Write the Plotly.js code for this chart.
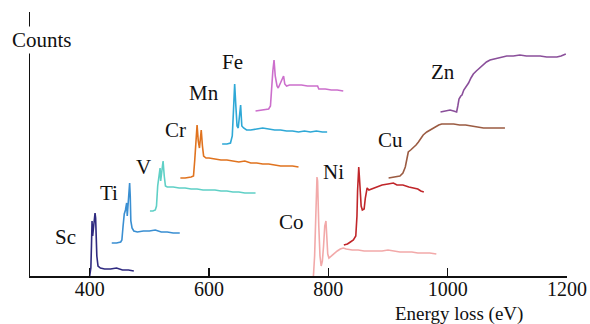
<!DOCTYPE html>
<html>
<head>
<meta charset="utf-8">
<script src="https://cdn.plot.ly/plotly-3.0.1.min.js"></script>
<style>html,body{margin:0;padding:0;background:#fff;}#chart{width:590px;height:324px;}</style>
</head>
<body>
<div id="chart"></div>
<script>
// Energy loss (eV) and counts (arbitrary, offset) for each L-edge spectrum
const scE = [400,402,403,404,405,406,407,408,409,410,411,412,414,418,425,435,445,455,465,474];
const scC = [0,8,30,55,40,45,50,60,63,58,40,20,10,8,7,7,8,6,6,5];

const tiE = [437,445,452,454,456,458,460,462,463,465,467,468,469,471,474,480,490,500,510,520,530,540,551];
const tiC = [33,33,34,36,50,62,66,73,60,75,93,80,55,48,45,44,45,45,46,44,44,43,43];

const vE = [501,506,510,512,514,516,518,519,521,523,525,527,530,540,550,560,570,580,590,600,610,620,630,640,650,660,670,678];
const vC = [65,65,66,70,90,100,108,95,105,115,100,90,89,89,88,88,87,87,86,86,86,85,85,84,84,83,83,83];

const crE = [552,560,570,574,576,578,580,582,584,586,587,589,591,595,600,610,620,630,640,650,660,670,680,690,700,710,720,730,740,750];
const crC = [98,98,99,100,115,135,151,135,128,140,146,130,120,118,118,117,116,116,115,114,115,113,113,112,112,111,110,110,110,109];

const mnE = [622,630,636,639,641,643,645,647,649,651,653,655,658,663,670,680,690,700,710,720,730,740,750,760,770,780,790,798];
const mnC = [132,132,133,140,165,192,170,150,148,160,171,150,148,146,146,147,148,147,146,146,145,145,144,145,144,145,144,144];

const feE = [678,690,700,703,705,707,709,711,714,716,719,722,725,727,730,735,745,755,765,775,782,784,795,805,815,825];
const feC = [165,166,167,170,190,205,216,200,190,188,192,196,200,192,190,191,191,191,190,190,190,187,187,186,186,185];

const coE = [775,777,779,781,782,784,786,788,790,792,794,796,797,799,801,805,810,815,820,825,830,840,850,860,870,880,890,900,910,920,930,940,950,960,970,981];
const coC = [0,20,60,99,95,50,20,10,15,30,50,55,40,22,18,20,23,25,27,28,27,26,26,25,25,25,25,26,25,24,24,24,23,23,23,22];

const niE = [826,832,837,842,846,848,849,851,853,855,857,860,862,865,868,873,880,890,900,909,915,925,935,942,950,955,960];
const niC = [31,32,34,36,40,60,85,109,90,70,66,67,78,88,86,87,89,91,92,93,91,91,89,88,87,85,84];

const cuE = [901,910,920,925,929,932,934,938,942,947,951,955,959,965,971,978,985,990,1000,1010,1020,1030,1040,1050,1060,1070,1080,1090,1096];
const cuC = [98,99,100,103,109,118,124,126,128,131,134,138,141,144,146,149,151,152,152,152,151,151,150,149,148,148,148,148,148];

const znE = [988,995,1004,1010,1015,1017,1019,1022,1024,1027,1031,1035,1039,1043,1048,1054,1060,1065,1071,1078,1085,1092,1099,1110,1121,1132,1143,1155,1166,1175,1183,1190,1198];
const znC = [164,165,166,165,164,170,177,180,181,186,189,193,198,202,205,208,211,214,216,217,218,219,220,220,221,220,220,220,219,219,219,220,222];

const elements = ["Sc","Ti","V","Cr","Mn","Fe","Co","Ni","Cu","Zn"];
const energies = [scE,tiE,vE,crE,mnE,feE,coE,niE,cuE,znE];
const counts = [scC,tiC,vC,crC,mnC,feC,coC,niC,cuC,znC];
const colors = ["#2f2a80","#3a8fd2","#5fd0c6","#e0731f","#2ea8d6","#cc6fcc","#f2a9a9","#c0262a","#9b5b42","#8a4f9a"];
// label anchor positions (eV, counts)
const labelX = [360,432,491,544,591,640,739,808,904,993];
const labelY = [39,83,109,146,183,214,54,104,136,204];

const xTicks = [400,600,800,1000,1200];

const traces = elements.map((el,i)=>({
  type:"scatter", mode:"lines", name:el,
  x: energies[i], y: counts[i],
  line:{color:colors[i], width:1.6, shape:"linear"},
  hoverinfo:"skip", showlegend:false
}));

const family = "Liberation Serif, Times New Roman, serif";
const font = {family:family, size:21, color:"#111"};

const annotations = elements.map((el,i)=>({
  x: labelX[i], y: labelY[i], xref:"x", yref:"y", text: el,
  showarrow:false, font: font
}));
annotations.push({
  x: 0.022, y: 0.895, xref:"paper", yref:"paper", text:"Counts",
  showarrow:false, font: font, bgcolor:"#fff", borderpad:1, xanchor:"center", yanchor:"middle"
});
annotations.push({
  x: 1019, y: -0.098, xref:"x", yref:"paper", text:"Energy loss (eV)",
  showarrow:false, font: {family:family, size:19, color:"#111"}, xanchor:"center", yanchor:"top", borderpad:0
});

const layout = {
  width:590, height:324,
  margin:{l:30, r:23, t:12, b:48},
  paper_bgcolor:"#fff", plot_bgcolor:"#fff",
  font: font,
  xaxis:{
    range:[300,1200], showgrid:false, zeroline:false,
    showline:true, linecolor:"#111", linewidth:1.5,
    tickmode:"array", tickvals:xTicks, ticktext:xTicks.map(String),
    ticks:"inside", ticklen:8, tickwidth:1.5, tickcolor:"#111",
    ticklabelstandoff:-6,
    tickfont: {family:family, size:20, color:"#111"}
  },
  yaxis:{
    range:[0,264], showgrid:false, zeroline:false,
    showline:true, linecolor:"#111", linewidth:1.5,
    showticklabels:false, ticks:""
  },
  annotations: annotations
};

Plotly.newPlot("chart", traces, layout, {staticPlot:true, displayModeBar:false});
</script>
</body>
</html>
